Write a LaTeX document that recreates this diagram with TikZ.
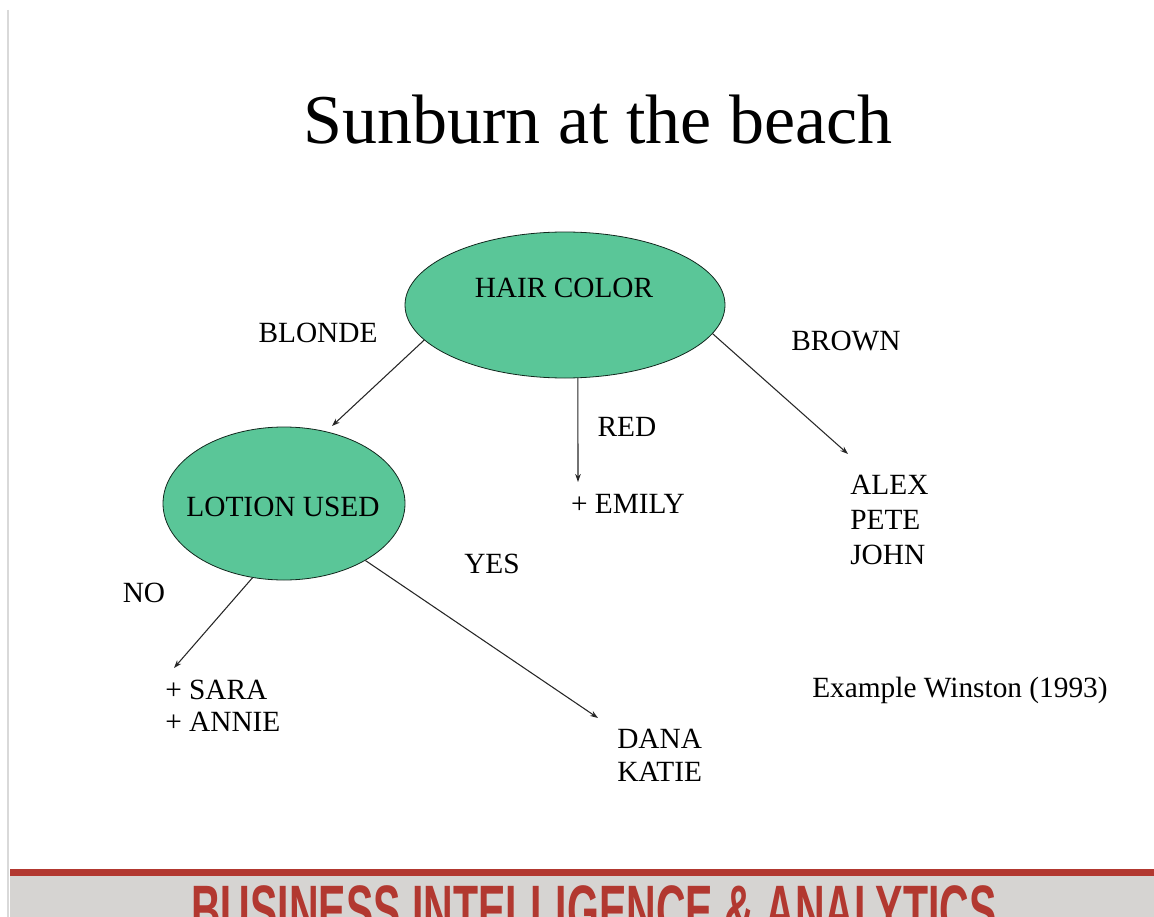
\documentclass[tikz,border=0pt]{standalone}
\usepackage{fontspec}
\usepackage{graphicx}
\setmainfont{Liberation Serif}
\newfontfamily\footfont{Liberation Sans}
\usetikzlibrary{shapes.geometric,arrows.meta}
\definecolor{nodegreen}{RGB}{90,198,152}
\definecolor{barred}{RGB}{178,56,48}
\definecolor{bargray}{RGB}{214,212,210}

\begin{document}
\begin{tikzpicture}[x=0.75pt,y=0.75pt,yscale=-1,xscale=1,
    attr/.style={ellipse,draw=black!80!nodegreen,line width=0.6pt,fill=nodegreen,inner sep=0pt},
    lbl/.style={inner sep=0pt,font=\fontsize{22}{26.25}\selectfont},
    branch/.style={line width=0.8pt,black!85,-{Stealth[length=6pt,width=4.2pt]}}]
        \useasboundingbox (0,0) rectangle (1154,917);
        \clip (0,0) rectangle (1154,917);
        %slide edge
        \draw [black!15, line width=1.5pt] (8,10) -- (8,917);

        % Title
        \node [inner sep=0pt, anchor=base, font=\fontsize{52.5}{60}\selectfont] (title) at (598,143) {Sunburn at the beach};

        %Shape: Ellipse
        \node [attr, minimum width=240pt, minimum height=109.5pt] (hair) at (565,305) {};
        \node [lbl] (hairtxt) at (564,288) {HAIR COLOR};
        %Shape: Ellipse
        \node [attr, minimum width=181.5pt, minimum height=114.75pt] (lotion) at (284,503.5) {};
        \node [lbl] (lotiontxt) at (283,507) {LOTION USED};

        % Text Node
        \node [lbl] (blonde) at (318,333) {BLONDE};
        \node [lbl] (brown) at (846,341) {BROWN};
        \node [lbl] (red) at (627,427) {RED};
        \node [lbl] (yes) at (492,564) {YES};
        \node [lbl] (no) at (144,593) {NO};
        \node [lbl] (emily) at (628,504) {+ EMILY};
        \node [lbl, align=left, anchor=north west] (alex) at (850,475) {ALEX\\PETE\\JOHN};
        \node [lbl, align=left, anchor=north west, font=\fontsize{22}{24}\selectfont] (sara) at (165,680) {+ SARA\\+ ANNIE};
        \node [lbl, align=left, anchor=north west, font=\fontsize{22}{24.75}\selectfont] (dana) at (617,729) {DANA\\KATIE};
        \node [lbl, anchor=base west] (winston) at (812,697) {Example Winston (1993)};

        %Straight Lines
        \coordinate (tipblonde) at (332,426);
        \coordinate (tipred) at (578,482);
        \coordinate (tipbrown) at (848,454);
        \coordinate (tipno) at (174,668);
        \coordinate (tipyes) at (598,718);
        \draw [branch] (hair.194) -- (tipblonde);
        \draw [branch] (hair.280) -- (tipred);
        \draw [branch] (hair.349) -- (tipbrown);
        \draw [branch] (lotion.247) -- (tipno);
        \draw [branch] (lotion.325) -- (tipyes);

        % Footer bar
        \fill [bargray] (10,876) rectangle (1154,917);
        \fill [barred] (10,869) rectangle (1154,876);
        \node [inner sep=0pt, anchor=north, text=barred] (footer) at (594,885)
            {\scalebox{0.586}[1]{\footfont\bfseries\fontsize{52.5}{60}\selectfont BUSINESS INTELLIGENCE \& ANALYTICS}};
\end{tikzpicture}
\end{document}
